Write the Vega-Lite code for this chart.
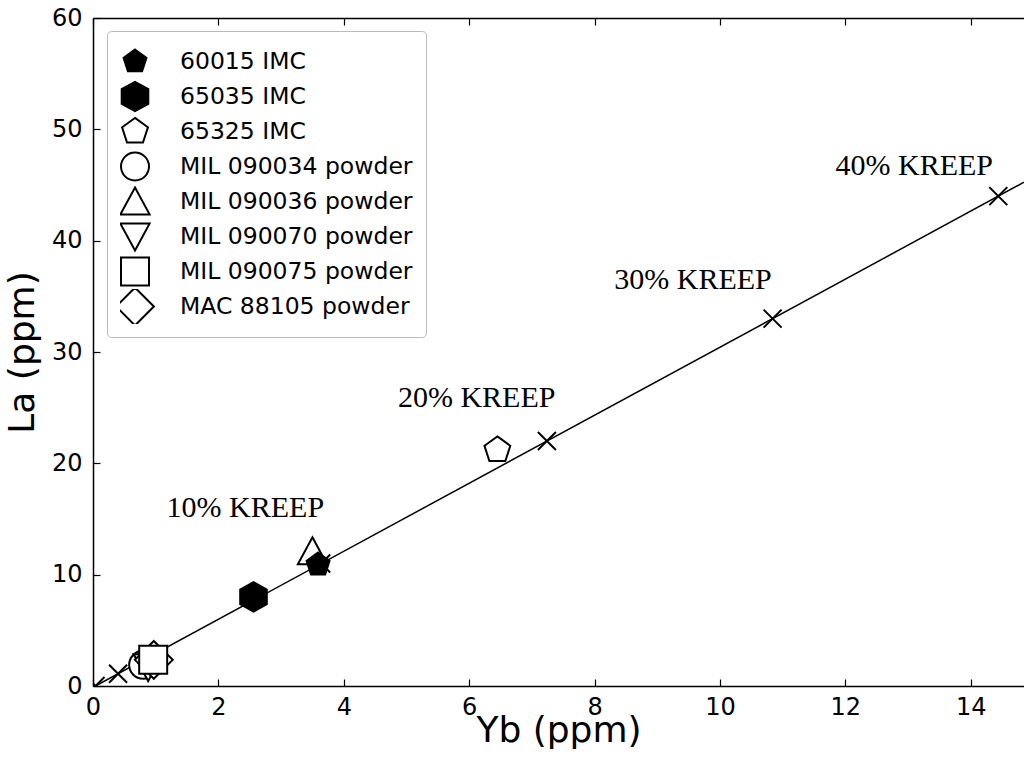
{
  "$schema": "https://vega.github.io/schema/vega-lite/v6.json",
  "autosize": {"type": "none"},
  "padding": {"left": 93, "top": 18, "right": 0, "bottom": 75},
  "width": 931,
  "height": 668,
  "background": "white",
  "config": {
    "view": {"stroke": null},
    "axis": {
      "grid": false,
      "domainColor": "black",
      "domainWidth": 1.5,
      "tickColor": "black",
      "tickWidth": 1.2,
      "tickSize": -7,
      "labelFlush": false,
      "labelColor": "black",
      "titleColor": "black",
      "labelFont": "DejaVu Sans",
      "titleFont": "DejaVu Sans",
      "labelFontSize": 24,
      "titleFontSize": 36,
      "titleFontWeight": "normal"
    }
  },
  "datasets": {
    "mixing": [
      {"Yb": 0.04, "La": 0.0},
      {"Yb": 14.85, "La": 45.25}
    ],
    "kreep": [
      {"pct": "0%", "Yb": 0.04, "La": 0.0},
      {"pct": "1%", "Yb": 0.40, "La": 1.1},
      {"pct": "10%", "Yb": 3.64, "La": 11.0},
      {"pct": "20%", "Yb": 7.24, "La": 22.0},
      {"pct": "30%", "Yb": 10.84, "La": 33.0},
      {"pct": "40%", "Yb": 14.44, "La": 44.0}
    ],
    "samples": [
      {"sample": "MIL 090034 powder", "Yb": 0.80, "La": 1.9},
      {"sample": "MIL 090070 powder", "Yb": 0.88, "La": 1.7},
      {"sample": "MIL 090036 powder", "Yb": 3.50, "La": 12.1},
      {"sample": "MAC 88105 powder", "Yb": 0.97, "La": 2.35},
      {"sample": "MIL 090075 powder", "Yb": 0.96, "La": 2.35},
      {"sample": "65325 IMC", "Yb": 6.45, "La": 21.2},
      {"sample": "65035 IMC", "Yb": 2.56, "La": 8.0},
      {"sample": "60015 IMC", "Yb": 3.59, "La": 10.9}
    ],
    "annotations": [
      {"label": "10% KREEP", "Yb": 2.43, "La": 15.2},
      {"label": "20% KREEP", "Yb": 6.12, "La": 25.1},
      {"label": "30% KREEP", "Yb": 9.57, "La": 35.7},
      {"label": "40% KREEP", "Yb": 13.1, "La": 45.9}
    ]
  },
  "resolve": {"axis": {"x": "independent"}},
  "layer": [
    {
      "data": {"name": "mixing"},
      "mark": {"type": "line", "color": "black", "strokeWidth": 1.5, "clip": true},
      "encoding": {
        "x": {
          "field": "Yb", "type": "quantitative",
          "scale": {"domain": [0, 14.85], "nice": false, "zero": false},
          "axis": {"orient": "bottom", "values": [0, 2, 4, 6, 8, 10, 12, 14], "title": "Yb (ppm)", "labelPadding": 16, "titlePadding": -6}
        },
        "y": {
          "field": "La", "type": "quantitative",
          "scale": {"domain": [0, 60], "nice": false, "zero": false},
          "axis": {"orient": "left", "values": [0, 10, 20, 30, 40, 50, 60], "title": "La (ppm)", "labelPadding": 18, "titlePadding": 10}
        }
      }
    },
    {
      "data": {"name": "kreep"},
      "mark": {"type": "point", "shape": "M-1,-1L1,1M-1,1L1,-1", "filled": false, "stroke": "black", "strokeWidth": 2, "size": 324, "opacity": 1, "clip": true},
      "encoding": {
        "x": {
          "field": "Yb", "type": "quantitative",
          "axis": {"orient": "top", "values": [0, 2, 4, 6, 8, 10, 12, 14], "labels": false, "title": null}
        },
        "y": {"field": "La", "type": "quantitative"}
      }
    },
    {
      "data": {"name": "samples"},
      "mark": {"type": "point", "filled": true, "stroke": "black", "strokeWidth": 2, "size": 784, "opacity": 1},
      "encoding": {
        "x": {"field": "Yb", "type": "quantitative", "axis": null},
        "y": {"field": "La", "type": "quantitative"},
        "shape": {
          "field": "sample", "type": "nominal",
          "scale": {
            "domain": ["60015 IMC", "65035 IMC", "65325 IMC", "MIL 090034 powder", "MIL 090036 powder", "MIL 090070 powder", "MIL 090075 powder", "MAC 88105 powder"],
            "range": [
              "M0,-0.86L0.818,-0.266L0.506,0.696L-0.506,0.696L-0.818,-0.266Z",
              "M0,-1.05L0.95,-0.525L0.95,0.525L0,1.05L-0.95,0.525L-0.95,-0.525Z",
              "M0,-0.97L0.922,-0.3L0.57,0.785L-0.57,0.785L-0.922,-0.3Z",
              "circle",
              "M0,-1L1.04,0.92L-1.04,0.92Z",
              "M0,1L1.04,-0.92L-1.04,-0.92Z",
              "M-1,-1L1,-1L1,1L-1,1Z",
              "M0,-1.35L1.35,0L0,1.35L-1.35,0Z"
            ]
          },
          "legend": {
            "title": null,
            "orient": "none",
            "legendX": 14,
            "legendY": 13,
            "padding": 13,
            "strokeColor": "#bbbbbb",
            "cornerRadius": 4,
            "fillColor": "white",
            "symbolSize": 784,
            "symbolStrokeColor": "black",
            "symbolStrokeWidth": 2,
            "symbolOpacity": 1,
            "labelFont": "DejaVu Sans",
            "labelFontSize": 23.5,
            "labelColor": "black",
            "labelOffset": 30,
            "rowPadding": 0,
            "clipHeight": 35,
            "labelLimit": 400,
            "encode": {"symbols": {"update": {"stroke": {"value": "black"}, "strokeWidth": {"value": 2}}}}
          }
        },
        "fill": {
          "field": "sample", "type": "nominal",
          "scale": {
            "domain": ["60015 IMC", "65035 IMC", "65325 IMC", "MIL 090034 powder", "MIL 090036 powder", "MIL 090070 powder", "MIL 090075 powder", "MAC 88105 powder"],
            "range": ["black", "black", "white", "white", "white", "white", "white", "white"]
          },
          "legend": {
            "title": null,
            "orient": "none",
            "legendX": 14,
            "legendY": 13,
            "padding": 13,
            "strokeColor": "#bbbbbb",
            "cornerRadius": 4,
            "fillColor": "white",
            "symbolSize": 784,
            "symbolStrokeColor": "black",
            "symbolStrokeWidth": 2,
            "symbolOpacity": 1,
            "labelFont": "DejaVu Sans",
            "labelFontSize": 23.5,
            "labelColor": "black",
            "labelOffset": 30,
            "rowPadding": 0,
            "clipHeight": 35,
            "labelLimit": 400,
            "encode": {"symbols": {"update": {"stroke": {"value": "black"}, "strokeWidth": {"value": 2}}}}
          }
        }
      }
    },
    {
      "data": {"name": "annotations"},
      "mark": {"type": "text", "font": "Liberation Serif", "fontSize": 30, "color": "black", "align": "center", "baseline": "alphabetic"},
      "encoding": {
        "x": {"field": "Yb", "type": "quantitative", "axis": null},
        "y": {"field": "La", "type": "quantitative"},
        "text": {"field": "label"}
      }
    }
  ]
}
